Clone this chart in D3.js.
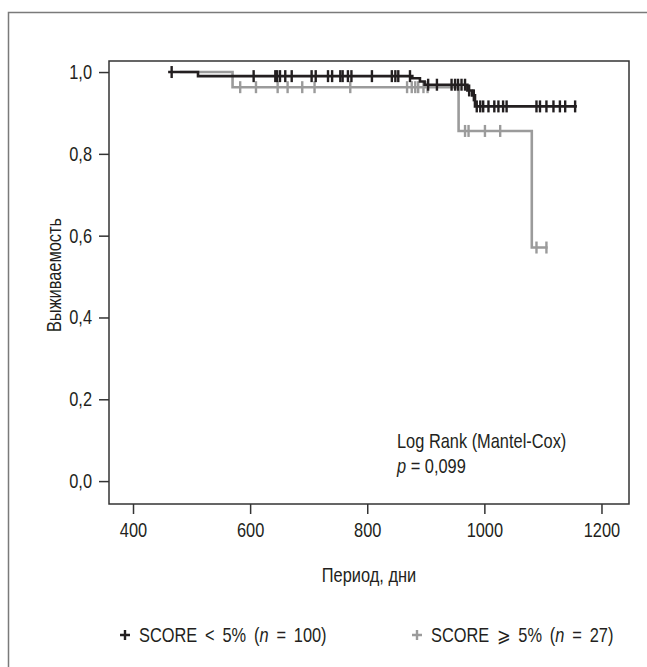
<!DOCTYPE html>
<html>
<head>
<meta charset="utf-8">
<script src="https://cdn.jsdelivr.net/npm/d3@7"></script>
<style>
    html, body { margin: 0; padding: 0; background: #fff; }
    svg { display: block; }
    text { font-family: "Liberation Sans", Arial, sans-serif; fill: #231f20; font-size: 20px; }
</style>
</head>
<body>
<svg id="km-chart" width="647" height="667"></svg>
<script>
// Tick labels
const xTicks = [400, 600, 800, 1000, 1200];
const yTicks = [0, 0.2, 0.4, 0.6, 0.8, 1.0];

// SCORE < 5% (n = 100)
const lowStart = 460;
const lowEnd = 1158;
const lowEventDays = [511, 877, 890, 898, 971, 979, 984];
const lowEventSurv = [0.990, 0.985, 0.977, 0.969, 0.955, 0.943, 0.916];
const lowCensorDays = [466, 606, 643, 646, 651, 660, 671, 705, 712, 733, 740, 754, 758, 767, 773,
    808, 842, 848, 853, 873, 904, 919, 944, 950, 955, 961, 967, 974, 982, 987, 993, 998, 1007,
    1017, 1024, 1032, 1038, 1089, 1095, 1106, 1118, 1129, 1138, 1155];

// SCORE >= 5% (n = 27)
const highStart = 480;
const highEnd = 1108;
const highEventDays = [570, 956, 1081];
const highEventSurv = [0.963, 0.856, 0.571];
const highCensorDays = [583, 610, 647, 664, 689, 710, 771, 868, 876, 882, 887, 896, 903,
    967, 973, 1001, 1027, 1089, 1106];

// Narrow (condensed) look for all texts
const squeeze = 0.82;

const svg = d3.select('#km-chart');

// Outer frame
svg.append("rect")
    .attr("x", 8.5).attr("y", 12.5)
    .attr("width", 700).attr("height", 700)
    .attr("fill", "none")
    .attr("stroke", "#7a7a7a")
    .attr("stroke-width", 1.5);

// Plot area
const plot = {left: 109, right: 629, top: 61, bottom: 504};

const xScale = d3.scaleLinear()
    .domain([359, 1247])
    .range([plot.left, plot.right]);

const yScale = d3.scaleLinear()
    .domain([-0.056, 1.027])
    .range([plot.bottom, plot.top]);

svg.append("rect")
    .attr("x", plot.left).attr("y", plot.top)
    .attr("width", plot.right - plot.left)
    .attr("height", plot.bottom - plot.top)
    .attr("fill", "none")
    .attr("stroke", "#333")
    .attr("stroke-width", 1.5);

// Draw X Axis
const xAxis = svg.append("g")
    .attr("transform", "translate(0," + plot.bottom + ")")
    .call(d3.axisBottom(xScale).tickValues(xTicks).tickSize(10).tickPadding(9).tickFormat(d3.format("d")));

// Draw Y Axis
const yAxis = svg.append("g")
    .attr("transform", "translate(" + plot.left + ",0)")
    .call(d3.axisLeft(yScale).tickValues(yTicks).tickSize(10)
        .tickFormat(d => d3.format(".1f")(d).replace(".", ",")));

[xAxis, yAxis].forEach(g => {
    g.select(".domain").remove();
    g.selectAll(".tick line").attr("stroke", "#333").attr("stroke-width", 1.5);
    g.selectAll(".tick text")
        .style("font-size", "20px")
        .style("font-family", null)
        .attr("font-family", null)
        .attr("fill", "#231f20")
        .attr("transform", "scale(" + squeeze + ",1)");
});
yAxis.selectAll(".tick text").attr("x", -17 / squeeze);

// Helper for placed text
const addText = (x, y, extra) => svg.append("text")
    .attr("transform", "translate(" + x + "," + y + ")" + (extra || "") + " scale(" + squeeze + ",1)");

// Axis titles
addText((plot.left + plot.right) / 2, 582)
    .attr("text-anchor", "middle")
    .text("Период, дни");

addText(61, 275, " rotate(-90)")
    .attr("text-anchor", "middle")
    .text("Выживаемость");

// Step curve builder
const stepPoints = (start, end, days, surv) => {
    const pts = [[start, 1.0]];
    days.forEach((d, i) => pts.push([d, surv[i]]));
    pts.push([end, surv[surv.length - 1]]);
    return pts;
};

const survAt = (t, days, surv) => {
    let s = 1.0;
    days.forEach((d, i) => { if (d <= t) s = surv[i]; });
    return s;
};

const line = d3.line()
    .curve(d3.curveStepAfter)
    .x(d => xScale(d[0]))
    .y(d => yScale(d[1]));

const series = [
    {start: highStart, end: highEnd, days: highEventDays, surv: highEventSurv, censor: highCensorDays, color: "#9b9b9b"},
    {start: lowStart, end: lowEnd, days: lowEventDays, surv: lowEventSurv, censor: lowCensorDays, color: "#231f20"}
];

series.forEach(s => {
    // Add the line
    svg.append("path")
        .datum(stepPoints(s.start, s.end, s.days, s.surv))
        .attr("fill", "none")
        .attr("stroke", s.color)
        .attr("stroke-width", 2.6)
        .attr("d", line);

    // Add the censor marks
    svg.selectAll(null)
        .data(s.censor)
        .enter()
        .append("line")
        .attr("x1", d => xScale(d))
        .attr("x2", d => xScale(d))
        .attr("y1", d => yScale(survAt(d, s.days, s.surv)) - 6)
        .attr("y2", d => yScale(survAt(d, s.days, s.surv)) + 6)
        .attr("stroke", s.color)
        .attr("stroke-width", 2.4);
});

// Log rank annotation
addText(397, 448).text("Log Rank (Mantel-Cox)");

const pText = addText(397, 473);
pText.append("tspan").style("font-style", "italic").text("p");
pText.append("tspan").text(" = 0,099");

// Legend
const legend = [
    {x: 125, color: "#231f20", label: "SCORE < 5% (", n: "100"},
    {x: 417, color: "#9b9b9b", label: "SCORE ⩾ 5% (", n: "27"}
];

legend.forEach(l => {
    svg.append("path")
        .attr("d", "M" + (l.x - 5) + ",635 h10 M" + l.x + ",630 v10")
        .attr("stroke", l.color)
        .attr("stroke-width", 2.4);

    const t = addText(l.x + 14, 642).style("word-spacing", "4px");
    t.append("tspan").text(l.label);
    t.append("tspan").style("font-style", "italic").text("n");
    t.append("tspan").text(" = " + l.n + ")");
});
</script>
</body>
</html>
